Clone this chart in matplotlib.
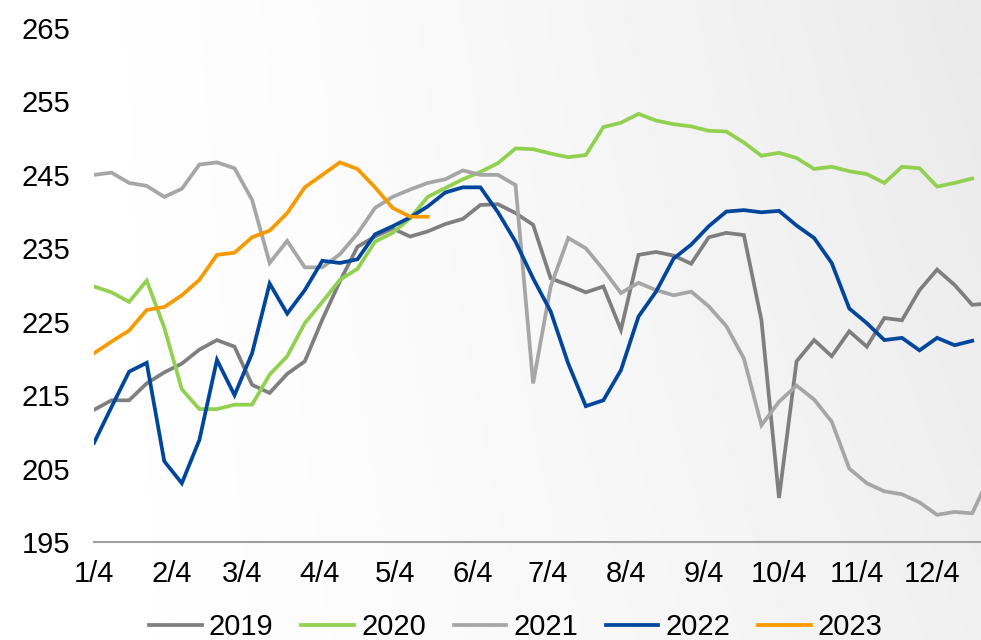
import numpy as np
import matplotlib
matplotlib.use("Agg")
import matplotlib.pyplot as plt

plt.rcParams["font.family"] = ["Liberation Sans", "DejaVu Sans"]

# weekly readings, first point on 1/4
Y2019 = [213.0, 214.3, 214.3, 216.6, 218.1, 219.3, 221.2, 222.5, 221.6, 216.4,
         215.3, 217.9, 219.6, 225.3, 230.5, 235.2, 236.6, 237.7, 236.6, 237.3,
         238.3, 239.0, 240.9, 241.0, 239.8, 238.2, 230.9, 230.0, 229.0, 229.8,
         223.9, 234.1, 234.5, 234.0, 232.9, 236.5, 237.1, 236.8, 225.2, 201.0,
         219.6, 222.5, 220.3, 223.7, 221.6, 225.5, 225.2, 229.3, 232.1, 230.0,
         227.3, 227.5]
Y2020 = [229.8, 229.0, 227.7, 230.6, 224.2, 215.8, 213.1, 213.1, 213.7, 213.7,
         217.8, 220.3, 224.8, 227.7, 230.7, 232.2, 235.9, 237.1, 239.1, 242.0,
         243.2, 244.4, 245.4, 246.6, 248.6, 248.5, 247.9, 247.4, 247.7, 251.5,
         252.1, 253.3, 252.4, 251.9, 251.6, 251.0, 250.9, 249.4, 247.6, 248.0,
         247.3, 245.8, 246.1, 245.5, 245.1, 243.9, 246.1, 245.9, 243.4, 243.9,
         244.5]
Y2021 = [245.0, 245.3, 243.9, 243.5, 242.0, 243.1, 246.4, 246.7, 245.9, 241.6,
         233.0, 236.0, 232.4, 232.4, 234.2, 237.0, 240.5, 242.0, 243.0, 243.9,
         244.4, 245.6, 245.0, 245.0, 243.6, 216.6, 229.8, 236.4, 235.0, 232.1,
         228.9, 230.3, 229.3, 228.6, 229.1, 227.1, 224.4, 220.0, 210.9, 214.1,
         216.3, 214.4, 211.4, 205.0, 203.0, 201.9, 201.5, 200.4, 198.7, 199.1,
         198.9, 204.0]
Y2022 = [208.5, 213.4, 218.2, 219.4, 206.0, 203.0, 208.9, 219.8, 215.0, 220.7,
         230.2, 226.1, 229.3, 233.3, 233.0, 233.5, 236.9, 238.0, 239.2, 240.7,
         242.6, 243.3, 243.3, 239.9, 235.9, 230.9, 226.4, 219.3, 213.5, 214.3,
         218.4, 225.7, 229.1, 233.6, 235.5, 238.0, 240.0, 240.2, 239.9, 240.1,
         238.1, 236.4, 233.0, 226.8, 224.8, 222.5, 222.8, 221.1, 222.8, 221.8,
         222.4]
Y2023 = [220.7, 222.3, 223.8, 226.6, 227.0, 228.6, 230.7, 234.1, 234.4, 236.5,
         237.4, 239.8, 243.3, 245.0, 246.7, 245.8, 243.3, 240.5, 239.3, 239.3]

SERIES = [Y2019, Y2020, Y2021, Y2022, Y2023]
LABELS = ["2019", "2020", "2021", "2022", "2023"]
COLORS = ["#7F7F7F", "#92D050", "#A6A6A6", "#00469C", "#F79A00"]

MONTH_DAYS = [31, 28, 31, 30, 31, 30, 31, 31, 30, 31, 30]
XTICKLABELS = ["1/4", "2/4", "3/4", "4/4", "5/4", "6/4",
               "7/4", "8/4", "9/4", "10/4", "11/4", "12/4"]
YTICKS = [195, 205, 215, 225, 235, 245, 255, 265]


def background(fig):
    bg = fig.add_axes([0, 0, 1, 1], zorder=-10)
    xx, yy = np.meshgrid(np.linspace(0, 1, 400), np.linspace(0, 1, 300))
    t = np.clip(xx ** 1.5 * (0.7 + 0.3 * yy), 0, 1)
    img = 1 - 0.085 * t
    bg.imshow(img, cmap="gray", vmin=0, vmax=1, aspect="auto",
              origin="lower", extent=[0, 1, 0, 1])
    bg.axis("off")


def plot(output):
    fig = plt.figure(figsize=(9.81, 6.4), dpi=100)
    background(fig)
    ax = fig.add_axes([94 / 981, 98 / 640, 1 - 94 / 981, 514 / 640])
    ax.set_facecolor("none")

    for idx, ys in enumerate(SERIES):
        x = np.arange(len(ys)) * 7
        ax.plot(x, ys, color=COLORS[idx], linewidth=2.7, label=LABELS[idx],
                solid_joinstyle="miter", zorder=3 + idx)

    ax.set_xlim(0, 353.5)
    ax.set_ylim(195, 265)
    xticks = np.concatenate([[0], np.cumsum(MONTH_DAYS)])
    ax.set_xticks(xticks)
    ax.set_xticklabels(XTICKLABELS)
    ax.set_yticks(YTICKS)
    ax.tick_params(axis="both", length=0, labelsize=21, colors="#000000")
    ax.tick_params(axis="x", pad=13)
    ax.tick_params(axis="y", pad=17)

    for s in ["top", "right", "left"]:
        ax.spines[s].set_visible(False)
    ax.spines["bottom"].set_color("#A0A0A0")
    ax.spines["bottom"].set_linewidth(1.5)

    handles, labels = ax.get_legend_handles_labels()
    fig.legend(handles, labels, loc="center",
               bbox_to_anchor=(516 / 981, 1 - 627 / 640),
               ncol=5, frameon=False, fontsize=21,
               handlelength=1.8, handletextpad=0.25, columnspacing=0.95)

    plt.savefig(output, dpi=100)


if __name__ == "__main__":
    plot("out.png")
